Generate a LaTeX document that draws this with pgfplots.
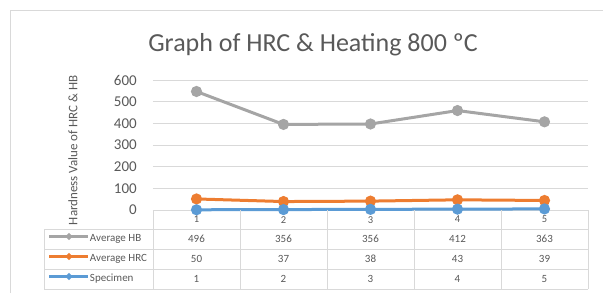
\documentclass[border=0pt]{standalone}
\usepackage{pgfplots}
\pgfplotsset{compat=1.18}
\usepackage{pgfplotstable}
\usepackage{fontspec}
\setmainfont{Carlito}
\definecolor{hbgray}{HTML}{A5A5A5}
\definecolor{hrcorange}{HTML}{ED7D31}
\definecolor{specblue}{HTML}{5B9BD5}
\definecolor{txtgray}{HTML}{595959}
\definecolor{gridgray}{HTML}{D9D9D9}
\pgfplotstableread{
x spec hrc hb
1 1 50 496
2 2 37 356
3 3 38 356
4 4 43 412
5 5 39 363
}\datatable
\begin{document}
\begin{tikzpicture}[x=1pt,y=1pt]
\useasboundingbox (0,0) rectangle (603,293);
% outer frame
\draw[gridgray,line width=0.8pt] (10,0) -- (10,283) -- (610,283);
% title
\node[txtgray,font=\fontsize{26}{30}\selectfont] at (313,248) {Graph of HRC \& Heating 800 ºC};
\begin{axis}[
  at={(153pt,83pt)}, anchor=south west,
  scale only axis, width=435pt, height=130pt,
  xmin=0.5, xmax=5.5, ymin=0, ymax=600,
  stack plots=y,
  axis line style={draw=none},
  major tick length=0pt,
  ytick={0,100,...,600},
  xtick={1,2,3,4,5},
  ymajorgrids, grid style={gridgray, line width=0.8pt},
  yticklabel style={font=\fontsize{15}{17}\selectfont, text=txtgray, inner sep=0pt, xshift=-16pt},
  xticklabel style={font=\fontsize{10.5}{12}\selectfont, text=txtgray, inner sep=0pt, anchor=north, yshift=-6pt},
  /pgf/number format/assume math mode=true,
  ylabel={Hardness Value of HRC \& HB},
  ylabel style={at={(axis description cs:-0.184,0.46)}, anchor=center, rotate=0, font=\fontsize{13}{15}\selectfont, text=txtgray},
  clip=false,
  reverse legend,
  legend style={at={(axis description cs:-0.2414,-0.1885)}, anchor=north west, draw=none, fill=none,
    inner sep=0pt, outer sep=0pt, row sep=11pt,
    font=\fontsize{11}{13}\selectfont, text=txtgray,
    nodes={inner sep=0pt, text height=7pt, text depth=2pt},
    /tikz/every odd column/.append style={column sep=0pt}},
  legend cell align=left,
  legend image code/.code={\draw[mark repeat=2,mark phase=2,#1] plot coordinates {(0pt,2.5pt) (19.5pt,2.5pt) (39pt,2.5pt)};},
  legend image post style={mark size=1.6pt},
  every axis plot/.append style={line width=3pt, mark=*, mark size=4pt},
]
\addplot[specblue, mark options={fill=specblue, draw=specblue}] table[x=x,y=spec]{\datatable};
\addlegendentry{Specimen}
\addplot[hrcorange, mark options={fill=hrcorange, draw=hrcorange}] table[x=x,y=hrc]{\datatable};
\addlegendentry{Average HRC}
\addplot[hbgray, mark options={fill=hbgray, draw=hbgray}] table[x=x,y=hb]{\datatable};
\addlegendentry{Average HB}
\end{axis}
% data table grid
\begin{scope}[gridgray, line width=0.8pt]
\foreach \yy in {229,249,269,289} {\draw (44,293-\yy) -- (588,293-\yy);}
\draw (44,293-229) -- (44,293-289);
\foreach \xx in {153,240,327,414,501,588} {\draw (\xx,293-210) -- (\xx,293-289);}
\end{scope}
% table values
\foreach \i in {0,...,4} {
  \pgfplotstablegetelem{\i}{hb}\of\datatable
  \node[txtgray,font=\fontsize{11}{13}\selectfont] at (196.5+87*\i,293-239) {\pgfplotsretval};
  \pgfplotstablegetelem{\i}{hrc}\of\datatable
  \node[txtgray,font=\fontsize{11}{13}\selectfont] at (196.5+87*\i,293-259) {\pgfplotsretval};
  \pgfplotstablegetelem{\i}{spec}\of\datatable
  \node[txtgray,font=\fontsize{11}{13}\selectfont] at (196.5+87*\i,293-279) {\pgfplotsretval};
}
\end{tikzpicture}
\end{document}
